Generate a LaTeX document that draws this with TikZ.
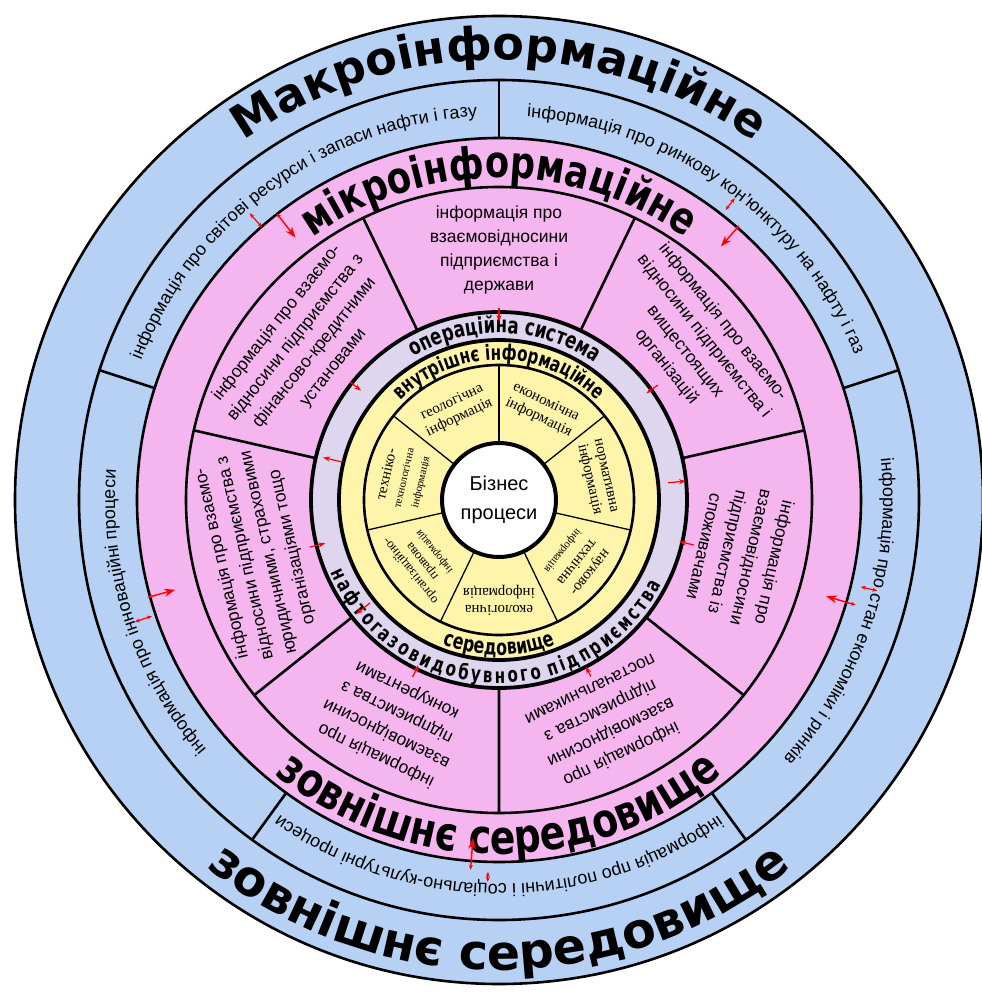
\documentclass[tikz,border=0pt]{standalone}
\usepackage{fontspec}
\setmainfont{Liberation Sans}
\newfontfamily\serifinfo{Liberation Serif}
\newfontfamily\titlefont{DejaVu Sans}[FakeStretch=0.72]
\newfontfamily\midtitle{DejaVu Sans}[FakeStretch=0.8]
\newfontfamily\widetitle{DejaVu Sans}
\usetikzlibrary{decorations.text,arrows.meta}

\definecolor{macroblue}{RGB}{183,209,244}
\definecolor{micropink}{RGB}{245,182,240}
\definecolor{oplilac}{RGB}{221,214,238}
\definecolor{innyellow}{RGB}{255,245,170}

\newcommand{\titlesize}[2]{#1\bfseries\fontsize{#2}{#2}\selectfont}

\begin{document}
\begin{tikzpicture}[x=1pt, y=1pt,
		border/.style = {line width=2.6pt},
		heavy/.style = {line width=3.8pt},
		fine/.style = {line width=1.3pt},
		arctext/.style = {decorate, decoration={text along path, text align=center, text={#1}}},
		segtext/.style = {align=center, font=\fontsize{17.5}{24}\selectfont},
		secttext/.style = {align=center, font=\serifinfo\fontsize{15}{17}\selectfont},
		inarrow/.style = {red, line width=1.2pt, -{Stealth[length=7pt,width=5pt]}},
		bigarrow/.style = {red, line width=1.4pt, {Stealth[length=5pt,width=4pt]}-{Stealth[length=11pt,width=8pt]}},
		smallarrow/.style = {red, line width=1.2pt, {Stealth[length=5pt,width=4pt]}-{Stealth[length=5pt,width=4pt]}}]
	\useasboundingbox (-499,-494) rectangle (483,500);

	% rings
	\fill [macroblue] (0,0) circle[radius=484];
	\fill [micropink] (0,0) circle[radius=362];
	\fill [oplilac] (0,0) circle[radius=188];
	\fill [innyellow] (0,0) circle[radius=160];

	\foreach \a in {90,18,...,-198}
		\draw [border] (\a:362) -- (\a:420);
	\foreach \i in {0,...,6}
		\draw [border] ({64.286-51.429*\i}:188) -- ({64.286-51.429*\i}:313);
	\foreach \i in {0,...,6}
		\draw [fine] ({90-51.429*\i}:58) -- ({90-51.429*\i}:135);

	\foreach \r in {484,420,362,313,135}
		\draw [border] (0,0) circle[radius=\r];
	\foreach \r in {188,160}
		\draw [heavy] (0,0) circle[radius=\r];

	% ring titles
	\path [arctext={|\titlesize\widetitle{46}|Макроінформаційне}] (170:440) arc[start angle=170, end angle=10, radius=440];
	\path [arctext={|\titlesize\widetitle{49}|зовнішнє середовище}] (185:470) arc[start angle=185, end angle=355, radius=470];
	\path [arctext={|\titlesize\midtitle{44}|мікроінформаційне}] (170:322) arc[start angle=170, end angle=10, radius=322];
	\path [arctext={|\titlesize\midtitle{47}|зовнішнє середовище}] (185:354) arc[start angle=185, end angle=355, radius=354];
	\path [arctext={|\titlesize\titlefont{23}|операційна система}] (168:167) arc[start angle=168, end angle=8, radius=167];
	\path [arctext={|\titlesize\titlefont{21}|{н\kern2.75pt}{а\kern2.75pt}{ф\kern2.75pt}{т\kern2.75pt}{о\kern2.75pt}{г\kern2.75pt}{а\kern2.75pt}{з\kern2.75pt}{о\kern2.75pt}{в\kern2.75pt}{и\kern2.75pt}{д\kern2.75pt}{о\kern2.75pt}{б\kern2.75pt}{у\kern2.75pt}{в\kern2.75pt}{н\kern2.75pt}{о\kern2.75pt}{г\kern2.75pt}{о\kern2.75pt} {п\kern2.75pt}{і\kern2.75pt}{д\kern2.75pt}{п\kern2.75pt}{р\kern2.75pt}{и\kern2.75pt}{є\kern2.75pt}{м\kern2.75pt}{с\kern2.75pt}{т\kern2.75pt}{в\kern2.75pt}а}] (178:183) arc[start angle=178, end angle=358, radius=183];
	\path [arctext={|\titlesize\titlefont{21}|внутрішнє інформаційне}] (170:140) arc[start angle=170, end angle=10, radius=140];
	\path [arctext={|\titlesize\titlefont{22}|середовище}] (190:155) arc[start angle=190, end angle=350, radius=155];

	% macro information
	\path [arctext={|\fontsize{18}{18}\selectfont|інформація про світові ресурси і запаси нафти і газу}] (166:384) arc[start angle=166, end angle=86, radius=384];
	\path [arctext={|\fontsize{18}{18}\selectfont|інформація про ринкову кон'юнктуру на нафту і газ}] (94:384) arc[start angle=94, end angle=14, radius=384];
	\path [arctext={|\fontsize{18}{18}\selectfont|інформація про стан економіки і ринків}] (22:384) arc[start angle=22, end angle=-58, radius=384];
	\path [arctext={|\fontsize{18}{18}\selectfont|інформація про політичні і соціально-культурні процеси}] (-48:384) arc[start angle=-48, end angle=-132, radius=384];
	\path [arctext={|\fontsize{18}{18}\selectfont|інформація про інноваційні процеси}] (238:384) arc[start angle=238, end angle=158, radius=384];

	% micro information
	\node [segtext] (state) at (90:250) {інформація про\\взаємовідносини\\підприємства і\\держави};
	\node [segtext, rotate=-51.43] (superior) at (38.57:250) {інформація про взаємо-\\відносини підприємства і\\вищестоящих\\організацій};
	\node [segtext, rotate=-102.86] (consumers) at (-12.86:247) {інформація про\\взаємовідносини\\підприємства із\\споживачами};
	\node [segtext, rotate=-154.29] (suppliers) at (-64.29:247) {інформація про\\взаємовідносини\\підприємства з\\постачальниками};
	\node [segtext, rotate=154.29] (rivals) at (-115.71:247) {інформація про\\взаємовідносини\\підприємства з\\конкурентами};
	\node [segtext, rotate=102.86] (legal) at (-167.14:248) {інформація про взаємо-\\відносини підприємства з\\юридичними, страховими\\організаціями тощо};
	\node [segtext, rotate=51.43] (finance) at (141.43:248) {інформація про взаємо-\\відносини підприємства з\\фінансово-кредитними\\установами};

	% internal information
	\node [secttext, rotate=25.71] (geo) at (115.71:100) {геологічна\\інформація};
	\node [secttext, rotate=-25.71] (econ) at (64.29:100) {економічна\\інформація};
	\node [secttext, rotate=-77.14] (norm) at (12.86:100) {нормативна\\інформація};
	\node [secttext, rotate=-128.57] (sci) at (-38.57:98) {науково-\\технічна\\{\fontsize{11}{12}\selectfont інформація}};
	\node [secttext, rotate=180] (eco) at (-90:100) {екологічна\\інформація};
	\node [secttext, rotate=128.57, font=\serifinfo\fontsize{13}{15}\selectfont] (org) at (-141.43:98) {організаційно-\\правова\\{\fontsize{11}{12}\selectfont інформація}};
	\node [secttext, rotate=77.14] (tech) at (167.14:98) {техніко-\\{\fontsize{11}{12}\selectfont технологічна}\\{\fontsize{11}{12}\selectfont інформація}};

	\node [circle, draw, fill=white, line width=4pt, minimum size=114pt, align=center, font=\fontsize{20}{29}\selectfont] (biz) at (0,0) {Бізнес\\процеси};

	% exchange arrows
	\foreach \a/\ra/\rb [count=\k] in {131/380/361, 52/383/368, 198.5/384/366, -13.5/389/372, 268.3/382/372} {
		\coordinate (so\k) at (\a:\ra);
		\coordinate (si\k) at (\a:\rb);
		\draw [smallarrow] (so\k) -- (si\k);
	}
	\foreach \a/\ra/\rb [count=\k] in {127.8/363/332, 48.8/365/337, 195.5/365/336, -16.4/372/341, 265.6/371/339} {
		\coordinate (bo\k) at (\a:\ra);
		\coordinate (bi\k) at (\a:\rb);
		\draw [bigarrow] (bo\k) -- (bi\k);
	}
	\foreach \a/\ra/\rb [count=\k] in {90/192/178, 141.6/190/176, 166.4/161/181, 35.9/196/182, 5.8/170/188, -13/200/185, -62.5/199/188, -116/197/184, -166/195/179, -141.4/165/183} {
		\coordinate (it\k) at (\a:\ra);
		\coordinate (ih\k) at (\a:\rb);
		\draw [inarrow] (it\k) -- (ih\k);
	}
\end{tikzpicture}
\end{document}
